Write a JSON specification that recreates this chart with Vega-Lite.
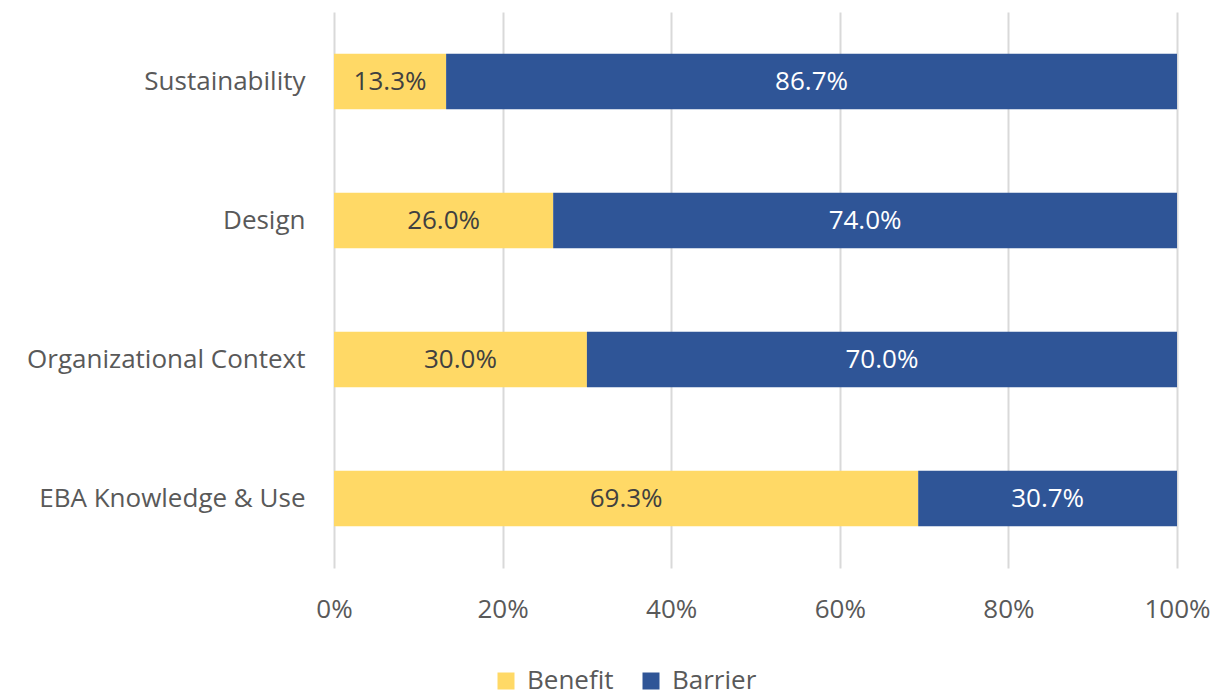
{
  "$schema": "https://vega.github.io/schema/vega-lite/v6.json",
  "autosize": "none",
  "width": 843,
  "height": 556,
  "padding": {"left": 334, "top": 12, "right": 50, "bottom": 130},
  "background": "white",
  "config": {"view": {"stroke": null}, "font": "Open Sans"},
  "data": {"values": [
    {"category": "Sustainability", "type": "Benefit", "value": 0.133, "k": 1},
    {"category": "Sustainability", "type": "Barrier", "value": 0.867, "k": 2},
    {"category": "Design", "type": "Benefit", "value": 0.26, "k": 1},
    {"category": "Design", "type": "Barrier", "value": 0.74, "k": 2},
    {"category": "Organizational Context", "type": "Benefit", "value": 0.30, "k": 1},
    {"category": "Organizational Context", "type": "Barrier", "value": 0.70, "k": 2},
    {"category": "EBA Knowledge & Use", "type": "Benefit", "value": 0.693, "k": 1},
    {"category": "EBA Knowledge & Use", "type": "Barrier", "value": 0.307, "k": 2}
  ]},
  "transform": [
    {"stack": "value", "groupby": ["category"], "sort": [{"field": "k", "order": "ascending"}], "as": ["x0", "x1"]},
    {"calculate": "(datum.x0 + datum.x1) / 2", "as": "mid"}
  ],
  "encoding": {
    "y": {
      "field": "category", "type": "nominal",
      "sort": ["Sustainability", "Design", "Organizational Context", "EBA Knowledge & Use"],
      "scale": {"paddingInner": 0.6, "paddingOuter": 0.3},
      "axis": {"title": null, "domain": false, "ticks": false, "labelFontSize": 26, "labelColor": "#595959", "labelPadding": 29, "labelLimit": 0}
    }
  },
  "layer": [
    {
      "mark": {"type": "bar"},
      "encoding": {
        "x": {"field": "x0", "type": "quantitative",
          "scale": {"domain": [0, 1], "nice": false},
          "axis": {"title": null, "format": ".0%", "values": [0, 0.2, 0.4, 0.6, 0.8, 1], "domain": false, "ticks": false, "labelFlush": false,
            "grid": true, "gridColor": "#d9d9d9", "gridWidth": 2, "labelFontSize": 26, "labelColor": "#595959", "labelPadding": 28}},
        "x2": {"field": "x1"},
        "color": {"field": "type", "type": "nominal",
          "scale": {"domain": ["Benefit", "Barrier"], "range": ["#FFD966", "#2F5597"]},
          "legend": {"title": null, "orient": "none", "legendX": 159, "legendY": 656, "direction": "horizontal",
            "symbolType": "square", "symbolSize": 289, "labelFontSize": 26, "labelColor": "#595959", "columnPadding": 24, "symbolOffset": 0, "labelOffset": 8, "symbolStrokeWidth": 0}}
      }
    },
    {
      "mark": {"type": "text", "fontSize": 26, "align": "center", "baseline": "middle"},
      "encoding": {
        "x": {"field": "mid", "type": "quantitative"},
        "text": {"field": "value", "type": "quantitative", "format": ".1%"},
        "color": {"field": "type", "type": "nominal", "scale": {"domain": ["Benefit", "Barrier"], "range": ["#404040", "#ffffff"]}, "legend": null}
      }
    }
  ],
  "resolve": {"scale": {"color": "independent"}}
}
